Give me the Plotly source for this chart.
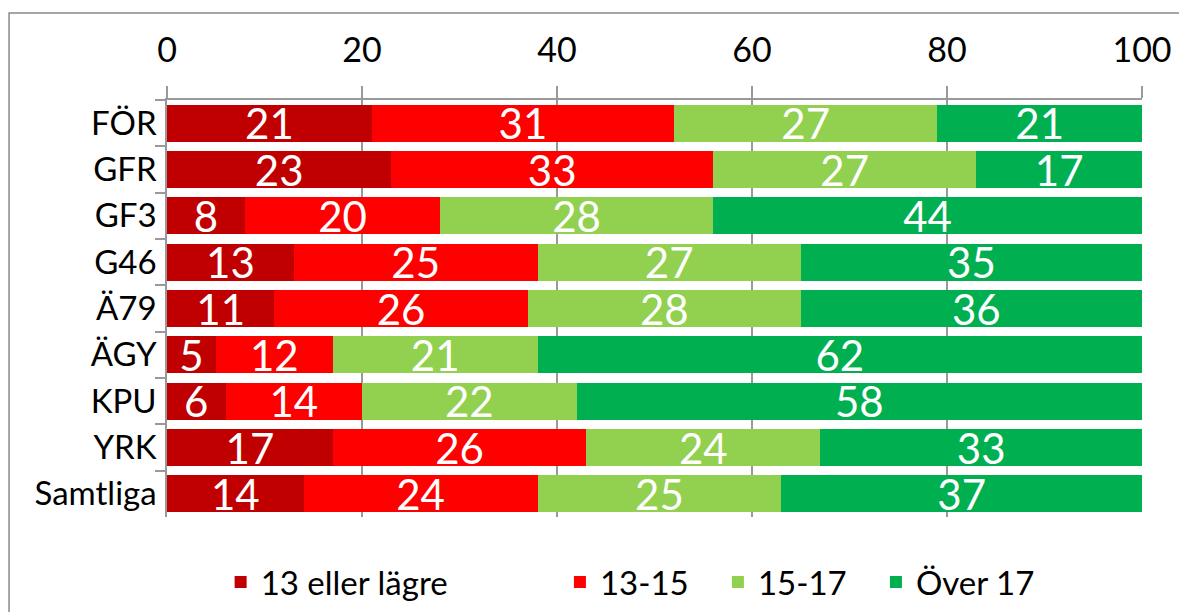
import plotly.graph_objects as go

# Andel per grupp (%)
categories = ["FÖR", "GFR", "GF3", "G46", "Ä79", "ÄGY", "KPU", "YRK", "Samtliga"]
series_names = ["13 eller lägre", "13-15", "15-17", "Över 17"]
v_13_lagre = [21, 23, 8, 13, 11, 5, 6, 17, 14]
v_13_15 = [31, 33, 20, 25, 26, 12, 14, 26, 24]
v_15_17 = [27, 27, 28, 27, 28, 21, 22, 24, 25]
v_over_17 = [21, 17, 44, 35, 36, 62, 58, 33, 37]
x_ticks = [0, 20, 40, 60, 80, 100]

colors = ["#C00000", "#FF0000", "#92D050", "#00B050"]
FONT = "Lato"

fig = go.Figure()
for i, (name, vals) in enumerate(zip(series_names, [v_13_lagre, v_13_15, v_15_17, v_over_17])):
    fig.add_trace(go.Bar(
        y=categories,
        x=vals,
        name=name,
        orientation="h",
        marker=dict(color=colors[i], line=dict(width=0)),
        text=vals,
        textposition="inside",
        insidetextanchor="middle",
        textangle=0,
        constraintext="none",
        textfont=dict(color="white", size=42, family=FONT),
        legend="legend" if i == 0 else "legend2",
    ))

# the page has an 8px body margin, so the figure is a bit smaller than the window
fig.update_layout(
    barmode="stack",
    bargap=0.2,
    width=1179,
    height=604,
    margin=dict(l=159, r=45, t=92, b=95, autoexpand=False),
    paper_bgcolor="white",
    plot_bgcolor="white",
    font=dict(family=FONT, size=34, color="black"),
    showlegend=True,
    legend=dict(orientation="h", x=0.055, xanchor="left", y=-0.156, yanchor="middle",
                traceorder="normal", font=dict(size=33, family=FONT), bgcolor="rgba(0,0,0,0)"),
    legend2=dict(orientation="h", x=0.403, xanchor="left", y=-0.156, yanchor="middle",
                 traceorder="normal", font=dict(size=33, family=FONT),
                 entrywidth=113, entrywidthmode="pixels", bgcolor="rgba(0,0,0,0)"),
    xaxis=dict(
        side="top",
        range=[0, 100],
        tickvals=x_ticks,
        ticks="outside",
        ticklen=12,
        tickcolor="#999999",
        tickwidth=1.5,
        showline=True,
        linecolor="#999999",
        linewidth=1.5,
        showgrid=True,
        gridcolor="#999999",
        gridwidth=1.5,
        zeroline=False,
        automargin=False,
        ticklabelstandoff=11,
        tickfont=dict(size=34, family=FONT),
        fixedrange=True,
    ),
    yaxis=dict(
        categoryorder="array",
        categoryarray=categories,
        autorange="reversed",
        ticks="outside",
        tickson="boundaries",
        ticklen=10,
        tickcolor="#999999",
        tickwidth=1.5,
        showline=True,
        linecolor="#999999",
        linewidth=1.5,
        showgrid=False,
        automargin=False,
        ticklabelstandoff=2,
        tickfont=dict(size=33, family=FONT),
        fixedrange=True,
    ),
    shapes=[
        dict(type="rect", xref="paper", yref="paper", x0=-0.162, x1=1.2, y0=-0.4, y1=1.2086,
             line=dict(color="#898989", width=1.5), fillcolor="rgba(0,0,0,0)", layer="below"),
    ],
)

fig.write_html("out.html")
